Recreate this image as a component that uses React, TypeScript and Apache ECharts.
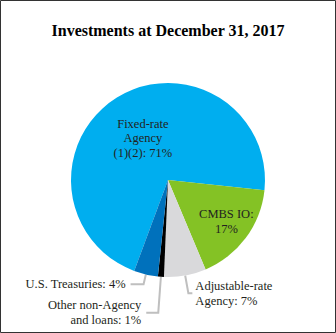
import React, { useEffect, useRef } from "react";
import * as echarts from "echarts";

const title = "Investments at December 31, 2017";
const categories = [
  "Fixed-rate\nAgency\n(1)(2)",
  "CMBS IO",
  "Adjustable-rate\nAgency",
  "Other non-Agency\nand loans",
  "U.S. Treasuries",
];
const values = [71, 17, 7, 1, 4];
const colors = ["#00AEEF", "#84C225", "#D9D9DB", "#000000", "#0071BC"];

export default function App() {
  const ref = useRef<HTMLDivElement>(null);
  useEffect(() => {
    document.body.style.margin = "0";
    const chart = echarts.init(ref.current!, null, { renderer: "svg" });
    const font = "Liberation Serif";
    const base = { fontFamily: font, fontSize: 12.5, color: "#231F20" };
    const itemLabel = (i: number) => {
      if (i === 0) {
        return { ...base, position: "inside", formatter: "{b}: {c}%", lineHeight: 14.5 };
      }
      if (i === 1) {
        return { ...base, position: "inside", formatter: "{b}:\n{c}%", lineHeight: 15 };
      }
      return { ...base, position: "outside", formatter: "{b}: {c}%", lineHeight: 15, distanceToLabelLine: i === 2 ? 3 : 5 };
    };
    const lineLens: Record<number, [number, number]> = {
      2: [18, 4],
      3: [36, 12],
      4: [10, 13],
    };
    chart.setOption({
      animation: false,
      textStyle: { fontFamily: font },
      title: {
        text: title,
        left: "center",
        top: 17,
        textStyle: { fontFamily: font, fontSize: 16, fontWeight: "bold", color: "#000" },
      },
      graphic: [
        {
          type: "rect",
          shape: { x: 0.5, y: 0.5, width: 335, height: 332 },
          style: { fill: "none", stroke: "#333", lineWidth: 1 },
          silent: true,
        },
      ],
      series: [
        {
          type: "pie",
          center: [168, 180],
          radius: [0, 97],
          startAngle: 249.6,
          clockwise: true,
          avoidLabelOverlap: false,
          labelLayout: (p: any) =>
            p.dataIndex === 1 ? { dx: 17, dy: 11 } : p.dataIndex === 0 ? { dx: 2, dy: 2 } : {},
          label: { ...base },
          labelLine: {
            lineStyle: { color: "#BFBFBF", width: 2 },
          },
          data: categories.map((name, i) => ({
            name,
            value: values[i],
            itemStyle: { color: colors[i] },
            label: itemLabel(i),
            labelLine: lineLens[i]
              ? { show: true, length: lineLens[i][0], length2: lineLens[i][1] }
              : { show: false },
          })),
        },
      ],
    });
    return () => chart.dispose();
  }, []);
  return <div ref={ref} style={{ width: 336, height: 333 }} />;
}
